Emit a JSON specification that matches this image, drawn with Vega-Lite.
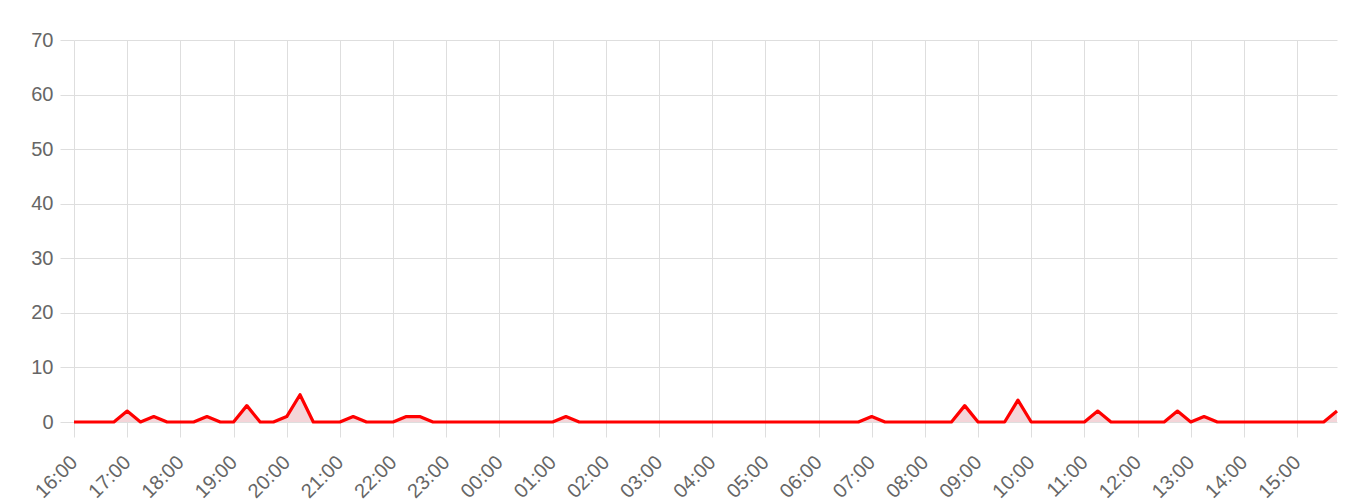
{
  "$schema": "https://vega.github.io/schema/vega-lite/v6.json",
  "width": 1263,
  "height": 382,
  "autosize": {"type": "none"},
  "padding": {"left": 74, "top": 40, "right": 23, "bottom": 81},
  "config": {
    "view": {"stroke": null},
    "axis": {
      "labelFont": "Liberation Sans",
      "labelFontSize": 20,
      "labelColor": "#666666",
      "gridColor": "#dedede",
      "tickColor": "#dedede",
      "tickSize": 14,
      "title": null
    }
  },
  "data": {
    "values": [
      {"t": "2024-01-01T16:00:00Z", "v": 0}, {"t": "2024-01-01T16:15:00Z", "v": 0}, {"t": "2024-01-01T16:30:00Z", "v": 0}, {"t": "2024-01-01T16:45:00Z", "v": 0},
      {"t": "2024-01-01T17:00:00Z", "v": 2}, {"t": "2024-01-01T17:15:00Z", "v": 0}, {"t": "2024-01-01T17:30:00Z", "v": 1}, {"t": "2024-01-01T17:45:00Z", "v": 0},
      {"t": "2024-01-01T18:00:00Z", "v": 0}, {"t": "2024-01-01T18:15:00Z", "v": 0}, {"t": "2024-01-01T18:30:00Z", "v": 1}, {"t": "2024-01-01T18:45:00Z", "v": 0},
      {"t": "2024-01-01T19:00:00Z", "v": 0}, {"t": "2024-01-01T19:15:00Z", "v": 3}, {"t": "2024-01-01T19:30:00Z", "v": 0}, {"t": "2024-01-01T19:45:00Z", "v": 0},
      {"t": "2024-01-01T20:00:00Z", "v": 1}, {"t": "2024-01-01T20:15:00Z", "v": 5}, {"t": "2024-01-01T20:30:00Z", "v": 0}, {"t": "2024-01-01T20:45:00Z", "v": 0},
      {"t": "2024-01-01T21:00:00Z", "v": 0}, {"t": "2024-01-01T21:15:00Z", "v": 1}, {"t": "2024-01-01T21:30:00Z", "v": 0}, {"t": "2024-01-01T21:45:00Z", "v": 0},
      {"t": "2024-01-01T22:00:00Z", "v": 0}, {"t": "2024-01-01T22:15:00Z", "v": 1}, {"t": "2024-01-01T22:30:00Z", "v": 1}, {"t": "2024-01-01T22:45:00Z", "v": 0},
      {"t": "2024-01-01T23:00:00Z", "v": 0}, {"t": "2024-01-01T23:15:00Z", "v": 0}, {"t": "2024-01-01T23:30:00Z", "v": 0}, {"t": "2024-01-01T23:45:00Z", "v": 0},
      {"t": "2024-01-02T00:00:00Z", "v": 0}, {"t": "2024-01-02T00:15:00Z", "v": 0}, {"t": "2024-01-02T00:30:00Z", "v": 0}, {"t": "2024-01-02T00:45:00Z", "v": 0},
      {"t": "2024-01-02T01:00:00Z", "v": 0}, {"t": "2024-01-02T01:15:00Z", "v": 1}, {"t": "2024-01-02T01:30:00Z", "v": 0}, {"t": "2024-01-02T01:45:00Z", "v": 0},
      {"t": "2024-01-02T02:00:00Z", "v": 0}, {"t": "2024-01-02T02:15:00Z", "v": 0}, {"t": "2024-01-02T02:30:00Z", "v": 0}, {"t": "2024-01-02T02:45:00Z", "v": 0},
      {"t": "2024-01-02T03:00:00Z", "v": 0}, {"t": "2024-01-02T03:15:00Z", "v": 0}, {"t": "2024-01-02T03:30:00Z", "v": 0}, {"t": "2024-01-02T03:45:00Z", "v": 0},
      {"t": "2024-01-02T04:00:00Z", "v": 0}, {"t": "2024-01-02T04:15:00Z", "v": 0}, {"t": "2024-01-02T04:30:00Z", "v": 0}, {"t": "2024-01-02T04:45:00Z", "v": 0},
      {"t": "2024-01-02T05:00:00Z", "v": 0}, {"t": "2024-01-02T05:15:00Z", "v": 0}, {"t": "2024-01-02T05:30:00Z", "v": 0}, {"t": "2024-01-02T05:45:00Z", "v": 0},
      {"t": "2024-01-02T06:00:00Z", "v": 0}, {"t": "2024-01-02T06:15:00Z", "v": 0}, {"t": "2024-01-02T06:30:00Z", "v": 0}, {"t": "2024-01-02T06:45:00Z", "v": 0},
      {"t": "2024-01-02T07:00:00Z", "v": 1}, {"t": "2024-01-02T07:15:00Z", "v": 0}, {"t": "2024-01-02T07:30:00Z", "v": 0}, {"t": "2024-01-02T07:45:00Z", "v": 0},
      {"t": "2024-01-02T08:00:00Z", "v": 0}, {"t": "2024-01-02T08:15:00Z", "v": 0}, {"t": "2024-01-02T08:30:00Z", "v": 0}, {"t": "2024-01-02T08:45:00Z", "v": 3},
      {"t": "2024-01-02T09:00:00Z", "v": 0}, {"t": "2024-01-02T09:15:00Z", "v": 0}, {"t": "2024-01-02T09:30:00Z", "v": 0}, {"t": "2024-01-02T09:45:00Z", "v": 4},
      {"t": "2024-01-02T10:00:00Z", "v": 0}, {"t": "2024-01-02T10:15:00Z", "v": 0}, {"t": "2024-01-02T10:30:00Z", "v": 0}, {"t": "2024-01-02T10:45:00Z", "v": 0},
      {"t": "2024-01-02T11:00:00Z", "v": 0}, {"t": "2024-01-02T11:15:00Z", "v": 2}, {"t": "2024-01-02T11:30:00Z", "v": 0}, {"t": "2024-01-02T11:45:00Z", "v": 0},
      {"t": "2024-01-02T12:00:00Z", "v": 0}, {"t": "2024-01-02T12:15:00Z", "v": 0}, {"t": "2024-01-02T12:30:00Z", "v": 0}, {"t": "2024-01-02T12:45:00Z", "v": 2},
      {"t": "2024-01-02T13:00:00Z", "v": 0}, {"t": "2024-01-02T13:15:00Z", "v": 1}, {"t": "2024-01-02T13:30:00Z", "v": 0}, {"t": "2024-01-02T13:45:00Z", "v": 0},
      {"t": "2024-01-02T14:00:00Z", "v": 0}, {"t": "2024-01-02T14:15:00Z", "v": 0}, {"t": "2024-01-02T14:30:00Z", "v": 0}, {"t": "2024-01-02T14:45:00Z", "v": 0},
      {"t": "2024-01-02T15:00:00Z", "v": 0}, {"t": "2024-01-02T15:15:00Z", "v": 0}, {"t": "2024-01-02T15:30:00Z", "v": 0}, {"t": "2024-01-02T15:45:00Z", "v": 2}
    ]
  },
  "encoding": {
    "x": {
      "field": "t",
      "type": "temporal",
      "scale": {"type": "utc"},
      "axis": {
        "format": "%H:%M",
        "tickCount": 24,
        "tickSize": 15,
        "labelAngle": -45,
        "labelAlign": "right",
        "labelBaseline": "middle",
        "labelPadding": 22,
        "labelOverlap": false,
        "labelFlush": false,
        "domain": false
      }
    },
    "y": {
      "field": "v",
      "type": "quantitative",
      "scale": {"domain": [0, 70]},
      "axis": {
        "values": [0, 10, 20, 30, 40, 50, 60, 70],
        "labelPadding": 7,
        "domain": false
      }
    }
  },
  "layer": [
    {"mark": {"type": "area", "color": "#f4d5d9", "opacity": 1}},
    {"mark": {"type": "line", "color": "#ff0000", "strokeWidth": 3.2, "strokeJoin": "round"}}
  ]
}
